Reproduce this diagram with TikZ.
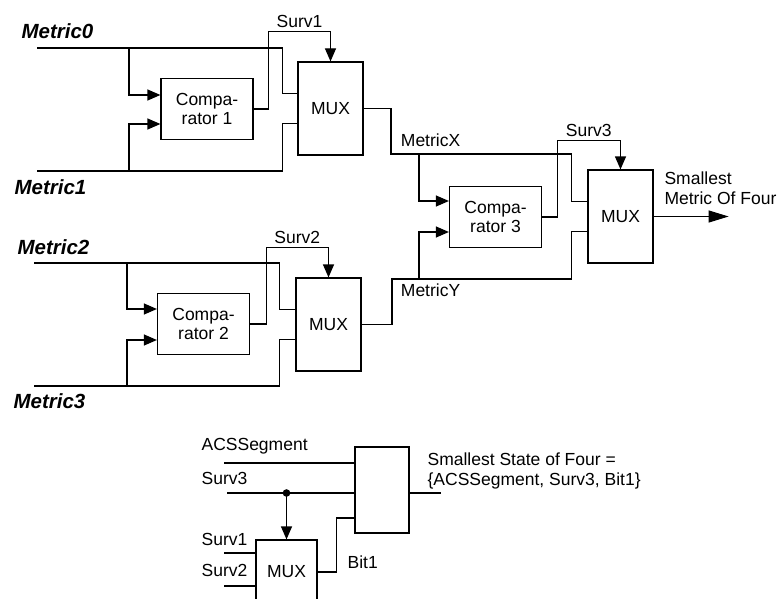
\documentclass[tikz,border=0pt]{standalone}
\usepackage{fontspec}
\setmainfont{Liberation Sans}
\usetikzlibrary{arrows.meta}
\tikzset{
  lbl/.style={font=\fontsize{17.5}{19.5}\selectfont},
  mlbl/.style={font=\fontsize{20.5}{22}\selectfont\bfseries\itshape, inner sep=0pt, anchor=west},
  cmpbox/.style={draw, lbl, align=center, minimum width=92pt, minimum height=61pt},
  muxbox/.style={draw, lbl, minimum width=65pt, minimum height=93pt},
  sig/.style={-{Triangle[length=13pt,width=11pt]}},
  outsig/.style={-{Triangle[length=20pt,width=12pt]}},
}
\begin{document}
\begin{tikzpicture}[x=1pt, y=-1pt, line width=1.2pt]
  \clip (0,0) rectangle (781,599);
  % Metric0 / Metric1
  \node[cmpbox] (cmp1) at (207,109) {Compa-\\rator 1};
  \node[muxbox] (mux1) at (330.5,108.5) {MUX};
  \coordinate (m0) at (37,48);
  \coordinate (m1) at (37,171);
  \coordinate (b0) at (129,48);
  \coordinate (b1) at (129,171);
  \node[mlbl] at (21,31) {Metric0};
  \node[mlbl] at (14,187) {Metric1};
  \draw (m0) -| ([xshift=-15pt,yshift=15pt]mux1.west) -- ([yshift=15pt]mux1.west);
  \draw (m1) -| ([xshift=-15pt,yshift=-15pt]mux1.west) -- ([yshift=-15pt]mux1.west);
  \draw[sig] (b0) |- ([yshift=14pt]cmp1.west);
  \draw[sig] (b1) |- ([yshift=-15pt]cmp1.west);
  \draw[sig] (cmp1.east) -- ++(15,0) |- node[lbl, pos=.75, above] {Surv1} ([yshift=30pt]mux1.north) -- (mux1.north);
  % Metric2 / Metric3
  \node[cmpbox] (cmp2) at (203.5,324) {Compa-\\rator 2};
  \node[muxbox] (mux2) at (328.5,324.5) {MUX};
  \coordinate (m2) at (34,263);
  \coordinate (m3) at (34,386);
  \coordinate (b2) at (127,263);
  \coordinate (b3) at (127,386);
  \node[mlbl] at (17,247) {Metric2};
  \node[mlbl] at (13,401) {Metric3};
  \draw (m2) -| ([xshift=-16pt,yshift=15pt]mux2.west) -- ([yshift=15pt]mux2.west);
  \draw (m3) -| ([xshift=-16pt,yshift=-15pt]mux2.west) -- ([yshift=-15pt]mux2.west);
  \draw[sig] (b2) |- ([yshift=15pt]cmp2.west);
  \draw[sig] (b3) |- ([yshift=-16pt]cmp2.west);
  \draw[sig] (cmp2.east) -- ++(16,0) |- node[lbl, pos=.75, above] {Surv2} ([yshift=30pt]mux2.north) -- (mux2.north);
  % MetricX / MetricY
  \node[cmpbox] (cmp3) at (495.5,217) {Compa-\\rator 3};
  \node[muxbox] (mux3) at (620.5,216.5) {MUX};
  \coordinate (mX) at (391,154);
  \coordinate (mY) at (392,279);
  \coordinate (bX) at (419,154);
  \coordinate (bY) at (419,279);
  \draw (mux1.east) -| (mX) -| ([xshift=-16pt,yshift=15pt]mux3.west) -- ([yshift=15pt]mux3.west);
  \draw (mux2.east) -| (mY) -| ([xshift=-16pt,yshift=-15pt]mux3.west) -- ([yshift=-15pt]mux3.west);
  \node[lbl, anchor=south west] at ([xshift=6pt,yshift=3pt]mX) {MetricX};
  \node[lbl, anchor=north west] at ([xshift=5pt,yshift=-1pt]mY) {MetricY};
  \draw[sig] (bX) |- ([yshift=16pt]cmp3.west);
  \draw[sig] (bY) |- ([yshift=-15pt]cmp3.west);
  \draw[sig] (cmp3.east) -- ++(15,0) |- node[lbl, pos=.75, above] {Surv3} ([yshift=29pt]mux3.north) -- (mux3.north);
  \draw[outsig] (mux3.east) -- ++(75,0) coordinate (res);
  \node[lbl, align=left, anchor=south west] at ([xshift=7pt,yshift=8pt]mux3.east) {Smallest\\Metric Of Four};
  % State of four
  \node[draw, minimum width=54pt, minimum height=86pt] (cat) at (382,490) {};
  \node[muxbox, minimum width=61pt, minimum height=64pt] (mux4) at (286.5,572) {MUX};
  \coordinate (acs) at (224,463);
  \coordinate (s3) at (227,493);
  \coordinate (s1) at (224,553);
  \coordinate (s2) at (224,586);
  \coordinate (tap) at (s3 -| mux4.north);
  \node[lbl, anchor=west, inner sep=0pt] at (201,446) {ACSSegment};
  \node[lbl, anchor=west, inner sep=0pt] at (201,478) {Surv3};
  \node[lbl, anchor=west, inner sep=0pt] at (201,539) {Surv1};
  \node[lbl, anchor=west, inner sep=0pt] at (201,570) {Surv2};
  \node[lbl, anchor=west, inner sep=0pt] at (347,562) {Bit1};
  \draw (acs) -- (acs -| cat.west);
  \draw (s3) -- (s3 -| cat.west);
  \fill (tap) circle (3.8);
  \draw[sig] (tap) -- (mux4.north);
  \draw (s1) -- (s1 -| mux4.west);
  \draw (s2) -- (s2 -| mux4.west);
  \draw (mux4.east) -- ++(19,0) |- ([yshift=-28pt]cat.west);
  \draw (s3 -| cat.east) -- ++(31,0);
  \node[lbl, align=left, anchor=west, inner sep=0pt] at (427,471) {Smallest State of Four =\\\{ACSSegment, Surv3, Bit1\}};
\end{tikzpicture}
\end{document}
